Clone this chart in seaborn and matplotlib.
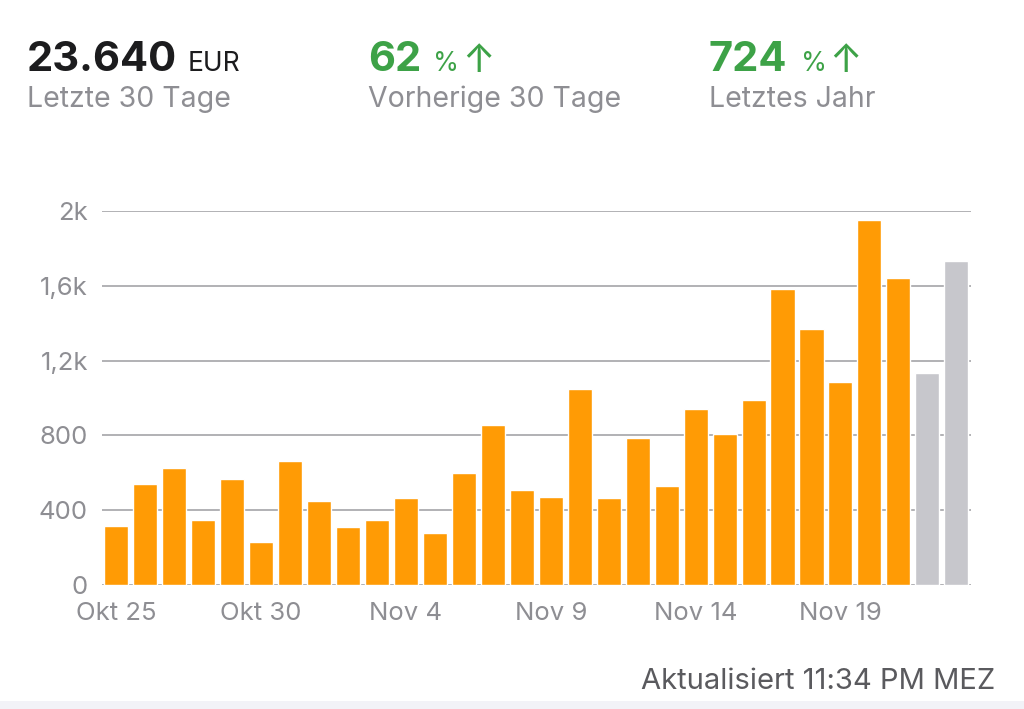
import matplotlib
matplotlib.use("Agg")
import matplotlib.pyplot as plt
import seaborn as sns
import pandas as pd
from matplotlib.patches import Rectangle

days = ["Okt 25", "Okt 26", "Okt 27", "Okt 28", "Okt 29", "Okt 30", "Okt 31",
        "Nov 1", "Nov 2", "Nov 3", "Nov 4", "Nov 5", "Nov 6", "Nov 7", "Nov 8",
        "Nov 9", "Nov 10", "Nov 11", "Nov 12", "Nov 13", "Nov 14", "Nov 15",
        "Nov 16", "Nov 17", "Nov 18", "Nov 19", "Nov 20", "Nov 21", "Nov 22", "Nov 23"]
values = [317, 539, 624, 348, 569, 232, 664, 450, 309, 350, 466, 277, 601, 856, 508,
          471, 1049, 466, 785, 531, 940, 810, 987, 1582, 1368, 1088, 1953, 1643,
          1133, 1734]
status = ["final"] * 28 + ["pending"] * 2
tick_days = ["Okt 25", "Okt 30", "Nov 4", "Nov 9", "Nov 14", "Nov 19"]
y_ticks = [0, 400, 800, 1200, 1600, 2000]
y_labels = ["0", "400", "800", "1,2k", "1,6k", "2k"]

df = pd.DataFrame({"day": days, "value": values, "status": status})

sns.set_theme(style="white")
plt.rcParams["font.family"] = ["Inter", "DejaVu Sans"]

W, H = 1024, 709
fig = plt.figure(figsize=(W / 100, H / 100), dpi=100)
fig.patch.set_facecolor("white")
ax = fig.add_axes([101.8 / W, 1 - 585 / H, (970.8 - 101.8) / W, (585 - 211) / H])

sns.barplot(data=df, x="day", y="value", hue="status", order=days,
            palette={"final": "#FF9B05", "pending": "#C7C7CC"},
            dodge=False, width=0.83, saturation=1, legend=False, ax=ax, zorder=3)

ax.set_xlim(-0.5, 29.5)
ax.set_ylim(0, 2000)
ax.set_yticks(y_ticks)
ax.set_yticklabels(y_labels)
ax.set_xticks([days.index(d) for d in tick_days])
ax.set_xticklabels(tick_days)
ax.set_xlabel("")
ax.set_ylabel("")
for s in ax.spines.values():
    s.set_visible(False)
ax.yaxis.grid(True, color="#ABABAF", linewidth=1.3, zorder=0)
ax.set_axisbelow(True)
ax.tick_params(axis="y", length=0, pad=10, labelsize=18.5, labelcolor="#8E8E93")
ax.tick_params(axis="x", length=0, pad=12, labelsize=18.5, labelcolor="#8E8E93")
ax.patch.set_alpha(0)

dark = "#1C1C1E"
grey = "#8E8E93"
green = "#3DA247"

def fx(px):
    return px / W

def fy(py):
    return 1 - py / H

fig.text(fx(27), fy(71), "23.640", fontsize=30, fontweight="bold", color=dark, va="baseline")
fig.text(fx(188), fy(71), "EUR", fontsize=19, color=dark, va="baseline")
fig.text(fx(27), fy(107), "Letzte 30 Tage", fontsize=20.5, color=grey, va="baseline")

fig.text(fx(368), fy(71), "62", fontsize=30, fontweight="bold", color=green, va="baseline")
fig.text(fx(433), fy(71), "%", fontsize=19, color=green, va="baseline")
fig.text(fx(462), fy(72), "↑", fontsize=28, color=green, va="baseline")
fig.text(fx(368), fy(107), "Vorherige 30 Tage", fontsize=20.5, color=grey, va="baseline")

fig.text(fx(709), fy(71), "724", fontsize=30, fontweight="bold", color=green, va="baseline")
fig.text(fx(801), fy(71), "%", fontsize=19, color=green, va="baseline")
fig.text(fx(829), fy(72), "↑", fontsize=28, color=green, va="baseline")
fig.text(fx(709), fy(107), "Letztes Jahr", fontsize=20.5, color=grey, va="baseline")

fig.text(fx(995), fy(689), "Aktualisiert 11:34 PM MEZ", fontsize=21, color="#5A5A5E",
         ha="right", va="baseline")

fig.patches.append(Rectangle((0, 0), 1, 8 / H, transform=fig.transFigure,
                             facecolor="#F2F2F7", edgecolor="none"))

fig.savefig("out.png", dpi=100)
